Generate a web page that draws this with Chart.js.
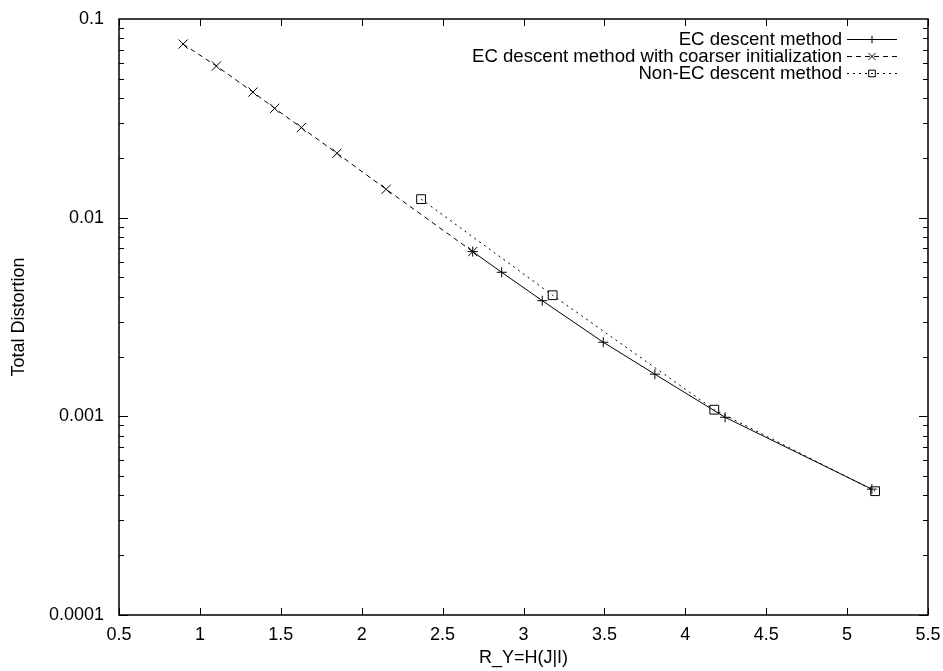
<!DOCTYPE html>
<html>
<head>
<meta charset="utf-8">
<script src="https://cdn.jsdelivr.net/npm/chart.js@4.4.1/dist/chart.umd.min.js"></script>
<style>
  html, body { margin: 0; padding: 0; background: #fff; }
  #wrap { width: 943px; height: 671px; position: relative; }
</style>
</head>
<body>
<div id="wrap"><canvas id="distChart"></canvas></div>
<script>
// values
const ecX = [2.686, 2.865, 3.116, 3.493, 3.812, 4.246, 5.153];
const ecY = [0.00675, 0.00531, 0.00382, 0.00236, 0.00163, 0.000989, 0.00043];

const coarseX = [0.896, 1.102, 1.328, 1.462, 1.627, 1.847, 2.151, 2.686];
const coarseY = [0.0748, 0.058, 0.0429, 0.0355, 0.0284, 0.0211, 0.0139, 0.00675];

const nonEcX = [2.367, 3.180, 4.179, 5.173];
const nonEcY = [0.0124, 0.00407, 0.00108, 0.00042];

const seriesNames = [
  'EC descent method',
  'EC descent method with coarser initialization',
  'Non-EC descent method'
];

const xTickMin = 0.5, xTickMax = 5.5, xTickStep = 0.5;
const yMin = 0.0001, yMax = 0.1;

const FONT = "'Liberation Sans', Arial, Helvetica, sans-serif";
const INK = '#000';

const toPoints = (xs, ys) => xs.map((x, i) => ({ x: x, y: ys[i] }));
const isDecade = v => Math.abs(Math.log10(v) - Math.round(Math.log10(v))) < 1e-9;

// gnuplot style: frame + inward ticks on all four sides
const framePlugin = {
  id: 'frame',
  afterDatasetsDraw(chart) {
    const { ctx, chartArea: a, scales } = chart;
    const xs = scales.x, ys = scales.y;
    ctx.save();
    ctx.strokeStyle = INK;
    ctx.lineWidth = 1;
    ctx.beginPath();
    // x ticks
    for (let v = xTickMin; v <= xTickMax + 1e-9; v += xTickStep) {
      const px = Math.round(xs.getPixelForValue(v)) + 0.5;
      ctx.moveTo(px, a.bottom); ctx.lineTo(px, a.bottom - 7);
      ctx.moveTo(px, a.top); ctx.lineTo(px, a.top + 7);
    }
    // y ticks, decades long, 2..9 short
    for (let e = Math.round(Math.log10(yMin)); e < Math.round(Math.log10(yMax)); e++) {
      for (let m = 1; m <= 9; m++) {
        const v = m * Math.pow(10, e);
        const py = Math.round(ys.getPixelForValue(v)) + 0.5;
        const len = m === 1 ? 9 : 5;
        ctx.moveTo(a.left, py); ctx.lineTo(a.left + len, py);
        ctx.moveTo(a.right, py); ctx.lineTo(a.right - len, py);
      }
    }
    ctx.stroke();
    ctx.lineWidth = 1.5;
    ctx.strokeRect(Math.round(a.left), Math.round(a.top),
      Math.round(a.right - a.left), Math.round(a.bottom - a.top));
    ctx.restore();
  }
};

// key in the top right corner: text right aligned, sample to the right
const keyPlugin = {
  id: 'key',
  afterDraw(chart) {
    const { ctx } = chart;
    const textRight = 842, lineL = 847, lineR = 897, top = 39, step = 17;
    ctx.save();
    ctx.font = '18.6px ' + FONT;
    ctx.textAlign = 'right';
    ctx.textBaseline = 'middle';
    chart.data.datasets.forEach((ds, i) => {
      const y = top + i * step;
      ctx.fillStyle = INK;
      ctx.fillText(ds.label, textRight, y + 1);
      ctx.save();
      ctx.strokeStyle = ds.borderColor;
      ctx.lineWidth = 1;
      ctx.setLineDash(ds.borderDash || []);
      ctx.beginPath();
      ctx.moveTo(lineL, y + 0.5); ctx.lineTo(lineR, y + 0.5);
      ctx.stroke();
      ctx.restore();
      ctx.save();
      ctx.fillStyle = 'rgba(0,0,0,0)';
      ctx.strokeStyle = INK;
      ctx.lineWidth = 1;
      Chart.helpers.drawPoint(ctx, {
        pointStyle: ds.pointStyle, radius: ds.pointRadius * 0.75,
        borderWidth: 1, rotation: 0
      }, (lineL + lineR) / 2, y + 0.5);
      ctx.restore();
    });
    ctx.restore();
  }
};

const noOverflowX = s => { s.height = 54; s.paddingLeft = 0; s.paddingRight = 0; };
const noOverflowY = s => { s.width = 119; s.paddingTop = 0; s.paddingBottom = 0; };

const ctx = document.getElementById('distChart').getContext('2d');
const distChart = new Chart(ctx, {
  type: 'line',
  data: {
    datasets: [{
      label: seriesNames[0],
      data: toPoints(ecX, ecY),
      borderColor: INK,
      borderWidth: 1,
      pointStyle: 'cross',
      pointRadius: 5,
      pointBorderColor: INK,
      pointBorderWidth: 1,
      pointBackgroundColor: 'rgba(0,0,0,0)'
    }, {
      label: seriesNames[1],
      data: toPoints(coarseX, coarseY),
      borderColor: INK,
      borderWidth: 1,
      borderDash: [5, 4],
      pointStyle: 'crossRot',
      pointRadius: 6.5,
      pointBorderColor: INK,
      pointBorderWidth: 1,
      pointBackgroundColor: 'rgba(0,0,0,0)'
    }, {
      label: seriesNames[2],
      data: toPoints(nonEcX, nonEcY),
      borderColor: INK,
      borderWidth: 1,
      borderDash: [2, 4],
      pointStyle: 'rect',
      pointRadius: 6.2,
      pointBorderColor: INK,
      pointBorderWidth: 1,
      pointBackgroundColor: 'rgba(0,0,0,0)'
    }]
  },
  options: {
    responsive: true, maintainAspectRatio: false,
    animation: false,
    layout: { padding: { left: 0, top: 19, right: 15, bottom: 2 } },
    plugins: { legend: { display: false }, tooltip: { enabled: false } },
    elements: { line: { tension: 0 } },
    scales: {
      x: {
        type: 'linear', min: xTickMin, max: xTickMax,
        afterFit: noOverflowX,
        grid: { display: false, drawTicks: false },
        border: { display: false },
        ticks: {
          stepSize: xTickStep, padding: 9, color: INK,
          font: { family: FONT, size: 18 },
          callback: v => String(v)
        },
        title: {
          display: true, text: 'R_Y=H(J|I)', color: INK,
          font: { family: FONT, size: 18 }, padding: { top: 0, bottom: 0 }
        }
      },
      y: {
        type: 'logarithmic', min: yMin, max: yMax,
        afterFit: noOverflowY,
        grid: { display: false, drawTicks: false },
        border: { display: false },
        ticks: {
          autoSkip: false, padding: 15, color: INK,
          font: { family: FONT, size: 18 },
          callback: v => isDecade(v) ? String(v) : ''
        },
        title: {
          display: true, text: 'Total Distortion', color: INK,
          font: { family: FONT, size: 18 }, padding: { top: 8, bottom: 0 }
        }
      }
    }
  },
  plugins: [framePlugin, keyPlugin]
});
</script>
</body>
</html>
